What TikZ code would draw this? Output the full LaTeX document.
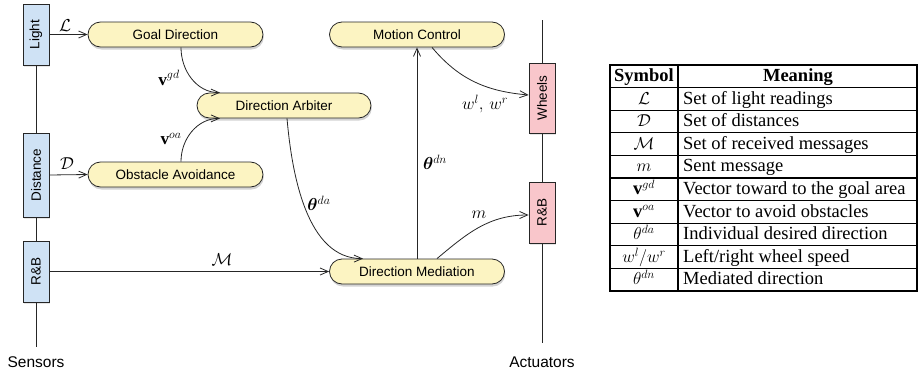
\documentclass[tikz,border=0pt]{standalone}
\usepackage{bm}
\usepackage{fontspec}
\setmainfont{Liberation Serif}
\setsansfont{Liberation Sans}
\usetikzlibrary{arrows.meta,shadows}
\definecolor{stadfill}{HTML}{FCF4C2}
\definecolor{bluefill}{HTML}{CFE2F5}
\definecolor{pinkfill}{HTML}{F9C6CB}
\definecolor{edge}{HTML}{262626}
\begin{document}
\begin{tikzpicture}[x=1pt,y=-1pt,
  stad/.style={draw=edge, line width=0.8pt, fill=stadfill, rounded corners=12.5pt,
    minimum width=175pt, minimum height=25pt, inner sep=0pt,
    font=\sffamily\fontsize{13.5}{16}\selectfont,
    drop shadow={shadow xshift=0.8pt, shadow yshift=-2.5pt, opacity=0.35}},
  sbox/.style={draw=edge, line width=0.8pt, minimum width=26pt, inner sep=0pt,
    font=\sffamily\fontsize{13.5}{16}\selectfont,
    drop shadow={shadow xshift=0.8pt, shadow yshift=-1.5pt, opacity=0.2}},
  bus/.style={draw=edge, line width=0.8pt},
  conn/.style={draw=edge, line width=0.8pt, -{Straight Barb[length=8pt,width=7pt]}},
  mlbl/.style={inner sep=0pt, font=\fontsize{17.28}{20}\selectfont},
  side/.style={inner sep=0pt, font=\sffamily\fontsize{15.5}{18}\selectfont},
  tabtxt/.style={inner sep=0pt, font=\rmfamily\fontsize{18.5}{21}\selectfont},
  tabouter/.style={draw=black, line width=1.6pt},
  tabinner/.style={draw=black, line width=1.1pt}]
\useasboundingbox (0,0) rectangle (919,372);

% sensor boxes
\node[sbox, fill=bluefill, minimum height=61pt] (light) at (36,34.5) {\rotatebox{90}{Light}};
\node[sbox, fill=bluefill, minimum height=84pt] (dist) at (36,175) {\rotatebox{90}{Distance}};
\node[sbox, fill=bluefill, minimum height=61pt] (rbs) at (36,271.5) {\rotatebox{90}{R\&B}};
\coordinate (sbot) at (36,347);
\draw[bus] (light.south) -- (dist.north);
\draw[bus] (dist.south) -- (rbs.north);
\draw[bus] (rbs.south) -- (sbot);
\node[side] (sens) at (36,362) {Sensors};

% actuator boxes
\node[sbox, fill=pinkfill, minimum height=70pt] (wheels) at (542,98) {\rotatebox{90}{Wheels}};
\node[sbox, fill=pinkfill, minimum height=61pt] (rba) at (542,212.5) {\rotatebox{90}{R\&B}};
\coordinate (atop) at (542,20);
\coordinate (abot) at (542,343);
\draw[bus] (atop) -- (wheels.north);
\draw[bus] (wheels.south) -- (rba.north);
\draw[bus] (rba.south) -- (abot);
\node[side] (act) at (542,362) {Actuators};

% behaviours
\node[stad] (gd) at (175.5,34.5) {Goal Direction};
\node[stad, minimum width=174pt] (da) at (284,105.5) {Direction Arbiter};
\node[stad] (oa) at (175.5,174.5) {Obstacle Avoidance};
\node[stad] (mc) at (417,34.5) {Motion Control};
\node[stad] (dm) at (417,271.5) {Direction Mediation};

% connectors
\draw[conn] (light.east) -- (gd.west);
\draw[conn] (dist.east) -- (oa.west);
\draw[conn] (rbs.east) -- (dm.west);
\draw[conn] ([xshift=5.5pt]gd.south) to[out=-90,in=180] ([xshift=-64pt]da.north);
\draw[conn] ([xshift=5.5pt]oa.north) to[out=90,in=180] ([xshift=-64pt]da.south);
\draw[conn] ([xshift=3pt]da.south) to[out=-85,in=180,looseness=0.9] ([xshift=-54pt]dm.north);
\draw[conn] (dm.north) -- (mc.south);
\draw[conn] ([xshift=15pt]mc.south) to[out=-50,in=175] ([yshift=3pt]wheels.west);
\draw[conn] ([xshift=20pt]dm.north) to[out=40,in=180] ([yshift=-2.5pt]rba.west);

% connector labels
\node[mlbl] (lL) at (65,26) {$\mathcal{L}$};
\node[mlbl] (lD) at (67,164) {$\mathcal{D}$};
\node[mlbl] (lM) at (222,260) {$\mathcal{M}$};
\node[mlbl] (lgd) at (169,78) {$\mathbf{v}^{gd}$};
\node[mlbl] (loa) at (171,139) {$\mathbf{v}^{oa}$};
\node[mlbl] (lda) at (319,203) {$\bm{\theta}^{da}$};
\node[mlbl] (ldn) at (435,162) {$\bm{\theta}^{dn}$};
\node[mlbl] (lw) at (485,104) {$w^{l},\, w^{r}$};
\node[mlbl] (lm) at (479,215) {$m$};

% table
\foreach \k in {1,...,9}
  \draw[tabinner] (610,{65+22.6*\k}) -- (917,{65+22.6*\k});
\draw[tabinner] (678,65) -- (678,291);
\draw[tabouter] (610,65) rectangle (917,291);
\node[tabtxt, anchor=base] (h1) at (644,81.5) {\textbf{Symbol}};
\node[tabtxt, anchor=base] (h2) at (798,81.5) {\textbf{Meaning}};
\foreach \k/\s/\t in {
  1/{$\mathcal{L}$}/{Set of light readings},
  2/{$\mathcal{D}$}/{Set of distances},
  3/{$\mathcal{M}$}/{Set of received messages},
  4/{$m$}/{Sent message},
  5/{$\mathbf{v}^{gd}$}/{Vector toward to the goal area},
  6/{$\mathbf{v}^{oa}$}/{Vector to avoid obstacles},
  7/{$\theta^{da}$}/{Individual desired direction},
  8/{$w^{l}/w^{r}$}/{Left/right wheel speed},
  9/{$\theta^{dn}$}/{Mediated direction}}{
  \node[tabtxt, anchor=base] (sym\k) at (644,{81.5+22.6*\k}) {\s};
  \node[tabtxt, anchor=base west] (mean\k) at (683,{81.5+22.6*\k}) {\t};
}
\end{tikzpicture}
\end{document}
